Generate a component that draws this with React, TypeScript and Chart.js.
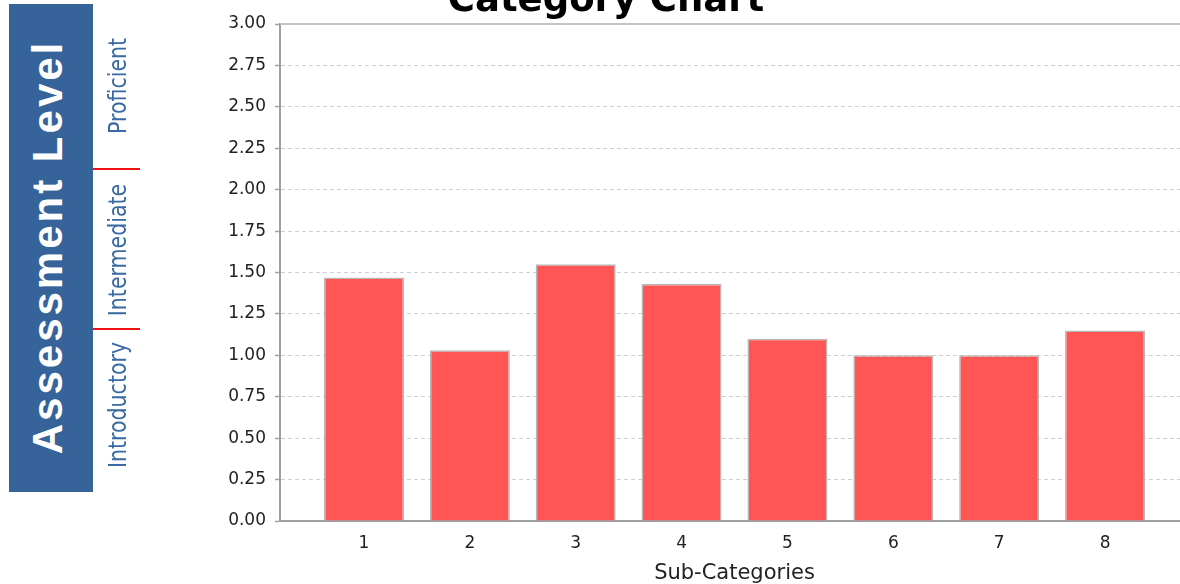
import React, { useEffect, useRef } from "react";
import { Chart, registerables } from "chart.js";

Chart.register(...registerables);

const chartTitle = "Category Chart";
const xAxisTitle = "Sub-Categories";
const panelTitle = "Assessment Level";
const levels = ["Proficient", "Intermediate", "Introductory"];
const categories = ["1", "2", "3", "4", "5", "6", "7", "8"];
const values = [1.47, 1.03, 1.55, 1.43, 1.1, 1.0, 1.0, 1.15];
const yMin = 0;
const yMax = 3;
const yStep = 0.25;

const BLUE = "#35639a";

const frameLines = {
  id: "frameLines",
  afterDraw(chart: any) {
    const { ctx, chartArea } = chart;
    ctx.save();
    ctx.strokeStyle = "#c4c4c4";
    ctx.lineWidth = 2;
    ctx.beginPath();
    ctx.moveTo(chartArea.left, chartArea.top);
    ctx.lineTo(chartArea.right, chartArea.top);
    ctx.stroke();
    ctx.fillStyle = "#000";
    ctx.font = "bold 37px 'DejaVu Sans'";
    ctx.textAlign = "center";
    ctx.textBaseline = "alphabetic";
    ctx.fillText(chartTitle, 606, 11);
    ctx.restore();
  },
};

function ChartCanvas() {
  const ref = useRef<HTMLCanvasElement | null>(null);
  useEffect(() => {
    if (!ref.current) return;
    const chart = new Chart(ref.current, {
      type: "bar",
      data: {
        datasets: [
          {
            data: values.map((v, i) => ({ x: i + 1, y: v })),
            backgroundColor: "#ff5555",
            borderColor: "#b8b8b8",
            borderWidth: 1.5,
            barPercentage: 0.756,
            categoryPercentage: 1,
          },
        ],
      },
      plugins: [frameLines],
      options: {
        animation: false,
        responsive: false,
        layout: { padding: { top: 24, left: 0, right: 0, bottom: 0 } },
        plugins: { legend: { display: false }, tooltip: { enabled: false }, title: { display: false } },
        scales: {
          x: {
            type: "linear",
            offset: false,
            min: 0.207,
            max: categories.length + 0.793,
            grid: { display: false, drawTicks: false },
            border: { display: true, color: "#a0a0a0", width: 2 },
            afterFit(scale: any) {
              scale.height = 63;
            },
            afterBuildTicks(scale: any) {
              scale.ticks = categories.map((_, i) => ({ value: i + 1 }));
            },
            ticks: {
              padding: 12,
              color: "#222",
              font: { family: "'DejaVu Sans'", size: 17 },
              callback: (v: any) => categories[Math.round(Number(v)) - 1] ?? "",
            },
            title: {
              display: true,
              text: xAxisTitle,
              color: "#222",
              font: { family: "'DejaVu Sans'", size: 21 },
              padding: { top: 0, bottom: -2 },
            },
          },
          y: {
            min: yMin,
            max: yMax,
            afterFit(scale: any) {
              scale.width = 280;
            },
            ticks: {
              stepSize: yStep,
              padding: 9,
              color: "#222",
              font: { family: "'DejaVu Sans'", size: 17 },
              callback: (v: any) => Number(v).toFixed(2),
            },
            grid: {
              color: "#d0d0d0",
              lineWidth: 1,
              drawTicks: true,
              tickLength: 5,
              tickColor: "#a0a0a0",
              tickWidth: 1.5,
              tickBorderDash: [],
            },
            border: { display: true, color: "#a0a0a0", width: 2, dash: [4, 3] },
          },
        },
      },
    });
    return () => chart.destroy();
  }, []);
  return <canvas ref={ref} width={1189} height={584} style={{ position: "absolute", left: 0, top: 0, width: 1189, height: 584 }} />;
}

const rotated = (cx: number, cy: number, squeeze = 1): React.CSSProperties => ({
  position: "absolute",
  left: cx,
  top: cy,
  transform: `translate(-50%, -50%) rotate(-90deg) scaleX(${squeeze})`,
  whiteSpace: "nowrap",
  lineHeight: 1,
});

export default function App() {
  const levelCenters = [86, 250, 405];
  return (
    <div style={{ position: "fixed", left: 0, top: 0, width: 1180, height: 584, overflow: "hidden", background: "#fff" }}>
      <ChartCanvas />
      <div style={{ position: "absolute", left: 9, top: 4, width: 84, height: 488, background: BLUE }} />
      <div
        style={{
          ...rotated(48, 247),
          color: "#fff",
          fontFamily: "'Liberation Sans', Arial, sans-serif",
          fontWeight: 900,
          fontSize: 42,
          letterSpacing: 3,
        }}
      >
        {panelTitle}
      </div>
      <div style={{ position: "absolute", left: 93, top: 168, width: 47, height: 2, background: "#ee1111" }} />
      <div style={{ position: "absolute", left: 93, top: 328, width: 47, height: 2, background: "#ee1111" }} />
      {levels.map((l, i) => (
        <div
          key={l}
          style={{
            ...rotated(118, levelCenters[i], 0.855),
            color: "#3a6aa3",
            fontFamily: "'DejaVu Sans', sans-serif",
            fontSize: 24,
          }}
        >
          {l}
        </div>
      ))}
    </div>
  );
}
